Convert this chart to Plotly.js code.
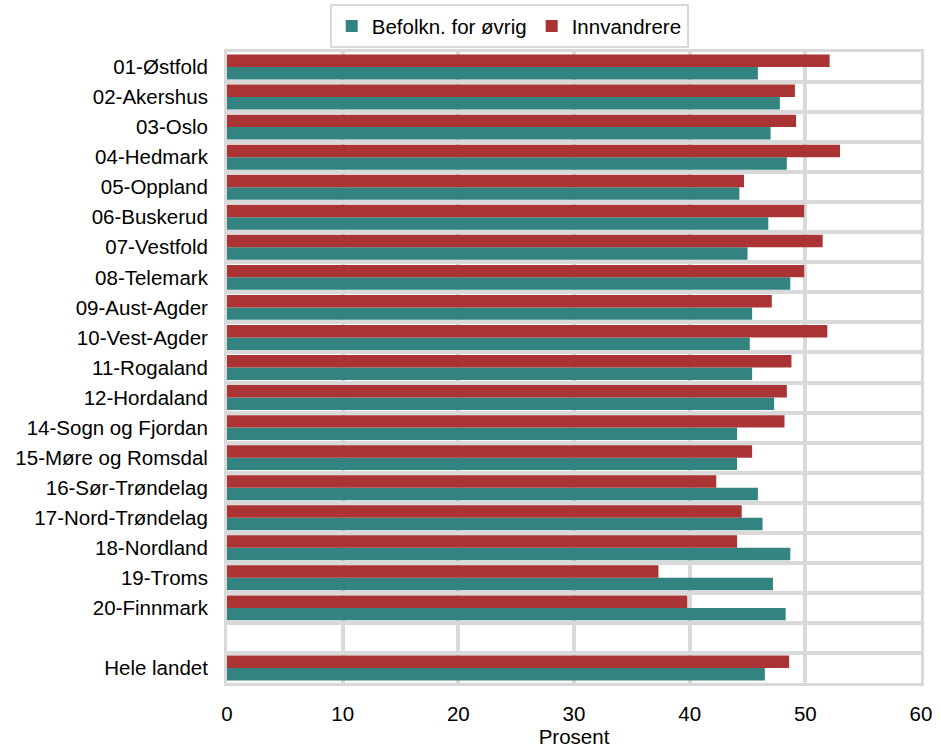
<!DOCTYPE html>
<html>
<head>
<meta charset="utf-8">
<script src="https://cdn.plot.ly/plotly-3.0.1.min.js"></script>
<style>html,body{margin:0;padding:0;background:#fff;}#chart{width:941px;height:751px;}</style>
</head>
<body>
<div id="chart"></div>
<script>
// Categories, top to bottom as shown
const categories = [
  "01-Østfold","02-Akershus","03-Oslo","04-Hedmark","05-Oppland","06-Buskerud",
  "07-Vestfold","08-Telemark","09-Aust-Agder","10-Vest-Agder","11-Rogaland",
  "12-Hordaland","14-Sogn og Fjordan","15-Møre og Romsdal","16-Sør-Trøndelag",
  "17-Nord-Trøndelag","18-Nordland","19-Troms","20-Finnmark"," ","Hele landet"
];
const dataCategories = [
  "01-Østfold","02-Akershus","03-Oslo","04-Hedmark","05-Oppland","06-Buskerud",
  "07-Vestfold","08-Telemark","09-Aust-Agder","10-Vest-Agder","11-Rogaland",
  "12-Hordaland","14-Sogn og Fjordan","15-Møre og Romsdal","16-Sør-Trøndelag",
  "17-Nord-Trøndelag","18-Nordland","19-Troms","20-Finnmark","Hele landet"
];
const befolkning = [45.9,47.8,47.0,48.4,44.3,46.8,45.0,48.7,45.4,45.2,45.4,47.3,44.1,44.1,45.9,46.3,48.7,47.2,48.3,46.5];
const innvandrere = [52.1,49.1,49.2,53.0,44.7,49.9,51.5,49.9,47.1,51.9,48.8,48.4,48.2,45.4,42.3,44.5,44.1,37.3,39.8,48.6];
const xTicks = [0,10,20,30,40,50,60];

const fontFam = "Liberation Sans, Arial, sans-serif";
const grid = "#d9d9d9";
const fs = 20.5;

const traces = [
  {type:"bar", orientation:"h", name:"Befolkn. for øvrig", x:befolkning, y:dataCategories,
   marker:{color:"#338480"}},
  {type:"bar", orientation:"h", name:"Innvandrere", x:innvandrere, y:dataCategories,
   marker:{color:"#aa3434"}}
];

const layout = {
  width:941, height:751,
  margin:{l:227, r:20, t:52, b:68, autoexpand:false},
  paper_bgcolor:"#fff", plot_bgcolor:"#fff",
  font:{family:fontFam, size:fs, color:"#000"},
  barmode:"group", bargap:0.17, bargroupgap:0,
  showlegend:true,
  legend:{orientation:"h", x:0.148, xanchor:"left", yref:"container", y:0.9945, yanchor:"top",
    bordercolor:grid, borderwidth:2, font:{size:fs, family:fontFam},
    itemwidth:30, traceorder:"normal", tracegroupgap:0},
  xaxis:{range:[0,60], tickvals:xTicks, showgrid:true, gridcolor:grid, gridwidth:4,
    zeroline:false, showline:true, linecolor:grid, linewidth:3, mirror:true,
    ticks:"", ticklabelstandoff:10, tickfont:{size:fs}, automargin:false,
    title:{text:"Prosent", font:{size:fs}, standoff:4}},
  yaxis:{type:"category", categoryorder:"array", categoryarray:categories.slice().reverse(),
    tickson:"boundaries", showgrid:true, gridcolor:grid, gridwidth:4,
    showline:true, linecolor:grid, linewidth:3, mirror:true, automargin:false,
    ticks:"", ticklabelstandoff:12, tickfont:{size:fs}, range:[-0.5,20.5]}
};

Plotly.newPlot("chart", traces, layout, {displayModeBar:false, staticPlot:true});
</script>
</body>
</html>
